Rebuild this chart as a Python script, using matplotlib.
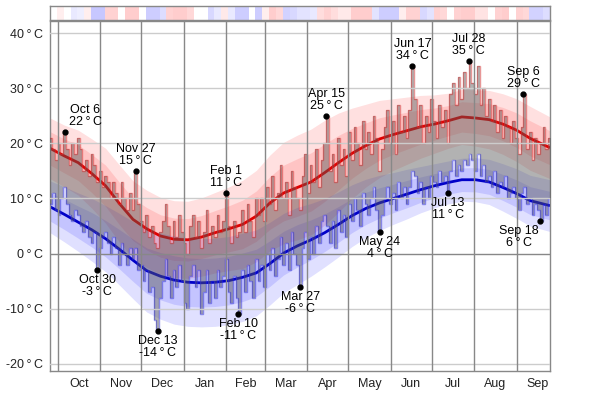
import numpy as np
import matplotlib
matplotlib.use("Agg")
import matplotlib.pyplot as plt

plt.rcParams['font.family'] = ['Liberation Sans', 'DejaVu Sans']

# ---------------- data ----------------
# x axis = days since Oct 1
month_labels = ["Oct", "Nov", "Dec", "Jan", "Feb", "Mar", "Apr", "May", "Jun", "Jul", "Aug", "Sep"]
month_starts = [0, 31, 61, 92, 123, 151, 182, 212, 243, 273, 304, 335, 365]
y_ticks = [-20, -10, 0, 10, 20, 30, 40]

avg_days = [-5.6, 5, 15, 25, 35, 45, 55, 65, 75, 85, 95, 105, 115, 125, 135, 145, 155, 165, 175,
            185, 195, 205, 215, 225, 235, 245, 255, 265, 275, 285, 295, 305, 315, 325, 335, 345, 359.4]
avg_high = [19.1, 17.7, 16.5, 14.5, 12.3, 9.1, 6.2, 4.5, 3.2, 2.6, 2.5, 3.0, 3.8, 4.5, 5.3, 6.8, 9.2,
            11.0, 12.0, 13.0, 14.7, 16.5, 18.2, 19.6, 20.8, 21.6, 22.3, 23.0, 23.5, 24.1, 24.8, 24.6,
            24.3, 23.5, 22.4, 20.9, 19.2]
avg_low = [8.5, 7.1, 5.7, 4.3, 2.7, 0.8, -1.2, -3.1, -4.1, -4.8, -5.2, -5.3, -5.2, -4.9, -4.3, -3.5,
           -1.8, 0.1, 1.4, 2.5, 3.8, 5.3, 6.9, 8.2, 9.2, 10.0, 10.8, 11.6, 12.3, 12.9, 13.4, 13.4,
           13.0, 12.0, 10.9, 9.6, 8.7]
high_spread = [5.5, 5.6, 5.9, 6.3, 6.8, 7.0, 7.0, 7.0, 7.0, 7.0, 7.0, 7.1, 7.3, 7.6, 8.0, 8.3, 8.7,
               9.2, 9.5, 9.6, 9.5, 9.0, 8.2, 7.5, 7.0, 6.5, 6.1, 5.7, 5.3, 5.0, 5.0, 5.1, 5.3, 5.5,
               5.7, 5.8, 5.6]
low_spread = [4.7, 5.0, 5.3, 5.7, 6.0, 6.5, 7.0, 7.5, 7.8, 8.0, 8.0, 8.0, 8.0, 8.0, 8.0, 7.8, 7.5,
              7.2, 7.0, 6.6, 6.2, 5.9, 5.6, 5.3, 5.0, 4.7, 4.5, 4.2, 4.0, 3.9, 3.9, 4.0, 4.1, 4.3,
              4.5, 4.6, 4.7]

# observed highs/lows in 2-day steps starting Sep 25 (day -6)
obs_start = -6
obs_step = 2
obs_high = [21, 19, 17, 20, 18, 22, 19, 16, 20, 18,
            21, 19, 15, 17, 14, 18, 16, 13, 15, 12,
            14, 13, 10, 13, 11, 9, 13, 10, 8, 11,
            8, 15, 9, 6, 4, 7, 3, 5, 2, 1,
            4, 6, 9, 5, 2, 6, 3, 7, 4, 2,
            0, 5, 7, 3, 6, 1, 4, 8, 2, 5,
            3, 7, 4, 6, 11, 5, 2, 6, 3, 4,
            8, 4, 9, 6, 3, 10, 7, 10, 6, 12,
            9, 14, 8, 11, 16, 10, 13, 7, 15, 12,
            10, 8, 14, 18, 11, 16, 13, 19, 12, 17,
            20, 25, 15, 18, 13, 21, 16, 19, 14, 22,
            17, 23, 20, 16, 24, 19, 22, 18, 25, 21,
            15, 19, 23, 26, 20, 24, 18, 27, 22, 25,
            21, 26, 34, 28, 23, 27, 20, 25, 22, 28,
            24, 21, 27, 23, 26, 20, 29, 31, 27, 32,
            28, 33, 30, 35, 31, 29, 34, 27, 30, 25,
            28, 24, 27, 22, 26, 21, 25, 23, 20, 24,
            21, 18, 23, 29, 19, 22, 17, 21, 18, 20,
            23, 19, 21]
obs_low = [9, 11, 8, 7, 10, 12, 9, 7, 6, 8,
           7, 5, 4, 6, 3, 2, 4, -3, 1, 3,
           4, 2, 0, 3, 1, -2, 2, 0, -2, 1,
           -1, 1, -3, -2, -5, -3, -7, -6, -12, -14,
           -8, -5, -1, -4, -8, -3, -6, -2, -5, -9,
           -10, -4, -2, -6, -3, -11, -7, -3, -9, -5,
           -8, -3, -6, -4, -1, -7, -9, -4, -8, -11,
           -3, -7, -2, -5, -8, -1, -5, -2, -6, 0,
           -3, 1, -4, -1, 3, -2, 2, -3, 4, 0,
           -2, -6, 1, 4, -1, 3, 0, 5, 2, 6,
           7, 5, 2, 6, 1, 8, 4, 7, 3, 9,
           6, 10, 8, 5, 11, 9, 7, 10, 12, 8,
           4, 7, 10, 12, 9, 11, 8, 13, 10, 12,
           9, 12, 15, 14, 11, 13, 9, 12, 10, 14,
           13, 12, 15, 13, 14, 11, 15, 17, 14, 16,
           15, 17, 16, 18, 17, 15, 18, 14, 16, 13,
           14, 12, 15, 11, 13, 12, 14, 10, 11, 12,
           10, 8, 11, 12, 9, 10, 7, 9, 8, 6,
           9, 7, 10]

# labelled extremes
ann_labels = ["Oct 6", "Oct 30", "Nov 27", "Dec 13", "Feb 1", "Feb 10", "Mar 27",
              "Apr 15", "May 24", "Jun 17", "Jul 13", "Jul 28", "Sep 6", "Sep 18"]
ann_days = [5, 29, 57, 73, 123, 132, 177, 196, 235, 259, 285, 300, 340, 352]
ann_values = [22, -3, 15, -14, 11, -11, -6, 25, 4, 34, 11, 35, 29, 6]
ann_kind = ["high", "low", "high", "low", "high", "low", "low",
            "high", "low", "high", "low", "high", "high", "low"]

# anomaly strip, 5-day blocks from the left edge (+ warm, - cold)
strip_anom = [0, 0.3, 0, -0.4, -0.3, 0.3, -1, -1, 0.8, 0.8, 0, 0.9, 0.9, 0, -0.9, -0.9, -0.6,
              0.8, 0.9, 0.9, 0.7, 0, 0, -0.7, -0.4, 0.4, -0.4, -0.9, -0.9, 0, -0.9, 0.3, 0.9,
              0.7, -0.8, -0.7, -0.5, -0.5, -0.4, 0.6, 0.8, 0.6, 0.4, 0.4, 0.9, 0.9, 0.9, -0.5,
              -0.9, -0.9, -0.9, 0.3, 0.8, 0.8, -0.7, -0.5, 0.8, 0.7, 0, 0.8, 0.9, 0.9, 0.5,
              0.5, 0, 0.8, 0.9, 0, 0.8, 0.7, -0.8, -0.8, -0.6]

# ---------------- figure ----------------
X0, X1 = -5.6, 359.4
Y0, Y1 = -21.3, 42.2
W, H = 600, 394

fig = plt.figure(figsize=(W / 100, H / 100), dpi=100)
ax = fig.add_axes([50 / W, (H - 371) / H, 500 / W, 350 / H])
ax.set_xlim(X0, X1)
ax.set_ylim(Y0, Y1)

d = np.array(avg_days)
ah = np.array(avg_high)
al = np.array(avg_low)
hs = np.array(high_spread)
ls = np.array(low_spread)

# percentile bands
ax.fill_between(d, ah - hs, ah + hs, color='#ff0000', alpha=0.12, lw=0, zorder=1)
ax.fill_between(d, ah - 0.55 * hs, ah + 0.55 * hs, color='#ff0000', alpha=0.12, lw=0, zorder=1)
ax.fill_between(d, al - ls, al + ls, color='#0000ff', alpha=0.12, lw=0, zorder=1)
ax.fill_between(d, al - 0.55 * ls, al + 0.55 * ls, color='#0000ff', alpha=0.12, lw=0, zorder=1)

# average lines
ax.plot(d, ah, color='#e00000', lw=2, zorder=2, solid_capstyle='butt')
ax.plot(d, al, color='#0000c8', lw=2, zorder=2, solid_capstyle='butt')

# daily observations
edges = obs_start + obs_step * np.arange(len(obs_high) + 1)
oh = np.array(obs_high, dtype=float)
ol = np.array(obs_low, dtype=float)
ax.fill_between(edges, np.append(ol, ol[-1]), np.append(oh, oh[-1]), step='post',
                color='#555555', alpha=0.45, lw=0, zorder=3)
ax.stairs(oh, edges, baseline=None, color='#d03030', alpha=0.5, lw=1, zorder=4)
ax.stairs(ol, edges, baseline=None, color='#3030d0', alpha=0.5, lw=1, zorder=4)

# grid
for t in y_ticks:
    ax.axhline(t, color='#888888' if t == 0 else '#cccccc', lw=1, zorder=5)
for m in month_starts[:-1]:
    ax.axvline(m, color='#888888', lw=1, zorder=5)

for s in ax.spines.values():
    s.set_color('#888888')
    s.set_linewidth(1)

mids = [(month_starts[i] + month_starts[i + 1]) / 2 for i in range(12)]
ax.set_xticks(mids)
ax.set_xticklabels(month_labels)
ax.set_yticks(y_ticks)
ax.set_yticklabels([f"{t}\u2009°\u2009C" for t in y_ticks])
ax.tick_params(length=0, labelsize=9, colors='#222222', pad=5)

# annotations
for lab, day, val, kind in zip(ann_labels, ann_days, ann_values, ann_kind):
    ax.plot(day, val, 'o', color='black', ms=3.5, zorder=7)
    dx = 0
    if lab == "Oct 6":
        dx = 15
    if lab == "Sep 18":
        dx = -15
    txt = f"{lab}\n{val}\u2009°\u2009C"
    if kind == "high":
        ax.annotate(txt, (day, val), xytext=(dx, 3), textcoords='offset points',
                    ha='center', va='bottom', fontsize=9, linespacing=1.0, zorder=8)
    else:
        ax.annotate(txt, (day, val), xytext=(dx, -3), textcoords='offset points',
                    ha='center', va='top', fontsize=9, linespacing=1.0, zorder=8)

# anomaly strip
ax2 = fig.add_axes([50 / W, (H - 20) / H, 500 / W, 14 / H])
ax2.set_xlim(X0, X1)
ax2.set_ylim(0, 1)
lefts = X0 + 5 * np.arange(len(strip_anom))
cols = []
for a in strip_anom:
    k = 0.22 * abs(a)
    if a >= 0:
        cols.append((1, 1 - k, 1 - k))
    else:
        cols.append((1 - k, 1 - k, 1))
ax2.bar(lefts, 1, width=5, align='edge', color=cols, lw=0)
ax2.set_xticks([])
ax2.set_yticks([])
for s in ax2.spines.values():
    s.set_color('#888888')
    s.set_linewidth(1)

fig.savefig("out.png", dpi=100, facecolor='white')
